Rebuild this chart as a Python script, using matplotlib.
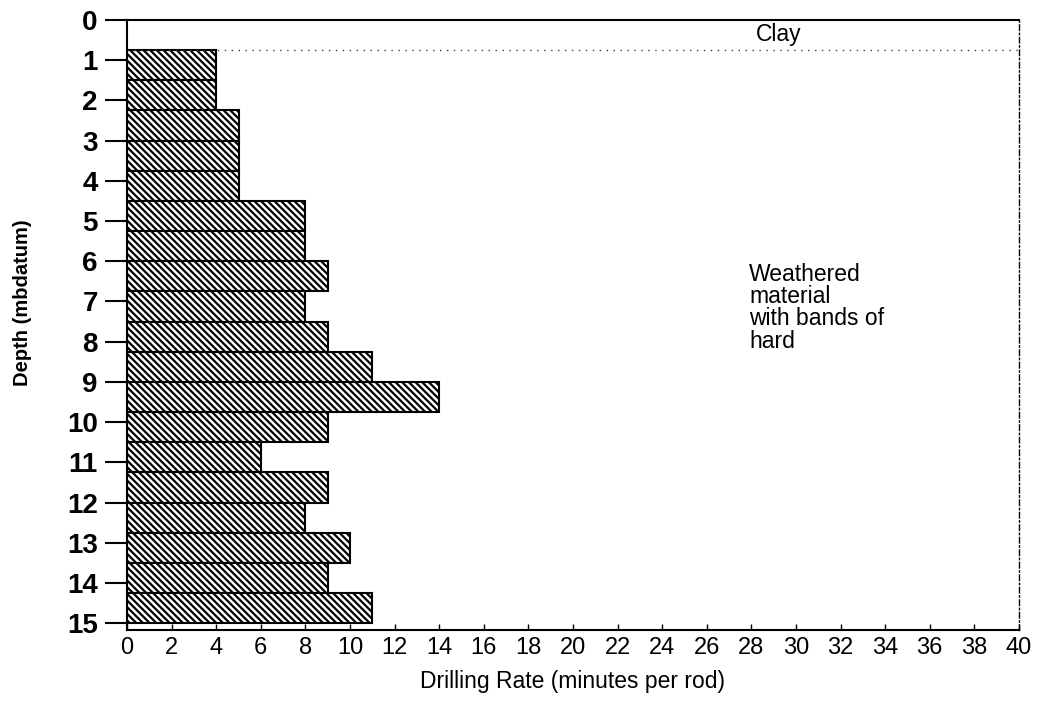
import matplotlib.pyplot as plt

plt.rcParams['font.family'] = ['Liberation Sans', 'DejaVu Sans']
plt.rcParams['hatch.linewidth'] = 1.6

# Drilling log: top of each 0.75 m interval and the rate measured over it
depth_top = [0.75, 1.5, 2.25, 3.0, 3.75, 4.5, 5.25, 6.0, 6.75, 7.5,
             8.25, 9.0, 9.75, 10.5, 11.25, 12.0, 12.75, 13.5, 14.25]
interval = [0.75] * 19
rate = [4, 4, 5, 5, 5, 8, 8, 9, 8, 9, 11, 14, 9, 6, 9, 8, 10, 9, 11]

clay_base = 0.75
x_ticks = list(range(0, 41, 2))
y_ticks = list(range(0, 16))

fig = plt.figure(figsize=(10.37, 7.19), dpi=100)
ax = fig.add_axes([0.1225, 0.1238, 0.8601, 0.8484])

ax.barh(depth_top, rate, height=interval, align='edge', left=0,
        color='white', edgecolor='black', linewidth=1.5, hatch='\\\\\\\\\\')

# clay / weathered material boundary
ax.plot([0, 40], [clay_base, clay_base], color='0.25', linestyle=(0, (1, 4)),
        linewidth=1.0)

ax.set_xlim(0, 40)
ax.set_ylim(15.17, 0)
ax.set_xticks(x_ticks)
ax.set_yticks(y_ticks)

ax.tick_params(axis='y', direction='out', length=16, width=1.5, pad=5,
               labelsize=20)
for lab in ax.get_yticklabels():
    lab.set_fontweight('bold')
ax.tick_params(axis='x', direction='in', length=4, width=1, pad=5,
               labelsize=17)

for side in ['left', 'top', 'bottom']:
    ax.spines[side].set_linewidth(1.5)
ax.spines['right'].set_linestyle((0, (4, 2, 1, 2)))
ax.spines['right'].set_linewidth(1.0)

ax.text(28.2, 0.35, 'Clay', fontsize=16.5, ha='left', va='center')
ax.text(27.9, 6.05, 'Weathered\nmaterial\nwith bands of\nhard',
        fontsize=16.5, ha='left', va='top', linespacing=0.95)

ax.set_xlabel('Drilling Rate (minutes per rod)', fontsize=16.5)
ax.xaxis.set_label_coords(0.5, -0.066)
ax.set_ylabel('Depth (mbdatum)', fontsize=14.5, fontweight='bold')
ax.yaxis.set_label_coords(-0.107, 0.537)

fig.savefig('out.png', dpi=100)
